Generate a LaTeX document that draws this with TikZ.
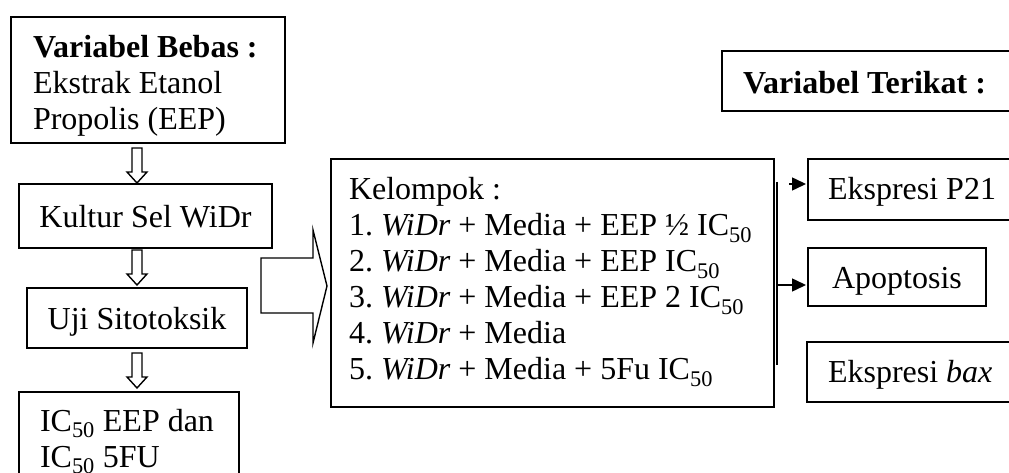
\documentclass[tikz,border=0pt]{standalone}
\usepackage{fontspec}
\setmainfont{Liberation Serif}
\usetikzlibrary{arrows.meta}

\tikzset{
  box/.style={draw, line width=2pt, rectangle, inner sep=0pt, outer sep=0pt,
    anchor=north west, font=\fontsize{32}{36}\selectfont\frenchspacing},
  onebox/.style={box, text height=22pt, text depth=0pt},
  leftbox/.style={box, align=flush left},
  hollow/.style={draw, line width=1.4pt, line join=miter},
  thinarrow/.style={line width=1.5pt, -{Triangle[length=14pt,width=13pt]}, shorten >=2pt},
}

\begin{document}
\begin{tikzpicture}[x=1pt,y=-1pt]
    \useasboundingbox (0,0) rectangle (1009,473);
    % left column
    \node[leftbox, text width=230pt, inner xsep=22pt, text height=41pt, text depth=85pt] (bebas) at (11,17)
      {\textbf{Variabel Bebas :}\\Ekstrak Etanol\\Propolis (EEP)};
    \node[onebox, minimum width=253pt, minimum height=64pt] (kultur) at (19,184) {Kultur Sel WiDr};
    \node[onebox, minimum width=220pt, minimum height=60pt] (uji) at (27,288) {Uji Sitotoksik};
    \node[leftbox, text width=178pt, inner xsep=21pt, text height=39pt, text depth=69pt] (ic) at (19,392)
      {IC\textsubscript{50} EEP dan\\IC\textsubscript{50} 5FU};
    % hollow arrows between the steps
    \foreach \y in {148,250,353}
      \draw[hollow, shift={(0,\y)}] (132,0) -- (142,0) -- (142,24) -- (147,24) -- (137,35)
        -- (127,24) -- (132,24) -- cycle;
    % groups
    \draw[hollow] (261,258) -- (313,258) -- (313,230) -- (327,286) -- (313,343) -- (313,313)
      -- (261,313) -- cycle;
    \node[leftbox, text width=407pt, inner xsep=18pt, text height=41pt, text depth=207pt] (kelompok) at (331,159)
      {Kelompok :\\
       1. \textit{WiDr} + Media + EEP ½ IC\textsubscript{50}\\
       2. \textit{WiDr} + Media + EEP IC\textsubscript{50}\\
       3. \textit{WiDr} + Media + EEP 2 IC\textsubscript{50}\\
       4. \textit{WiDr} + Media\\
       5. \textit{WiDr} + Media + 5Fu IC\textsubscript{50}};
    % right column
    \node[leftbox, text width=270pt, inner xsep=21pt, text height=43pt, text depth=17pt] (terikat) at (722,51)
      {\textbf{Variabel Terikat :}};
    \node[leftbox, text width=220pt, inner xsep=20pt, text height=41pt, text depth=20pt] (p21) at (808,159)
      {Ekspresi P21};
    \node[onebox, minimum width=178pt, minimum height=58pt] (apop) at (808,248) {Apoptosis};
    \node[leftbox, text width=220pt, inner xsep=21pt, text height=40pt, text depth=20pt] (bax) at (807,342)
      {Ekspresi \textit{bax}};
    \coordinate (bustop) at (777,182);
    \coordinate (busbot) at (777,365);
    \draw[line width=1.5pt] (bustop) -- (busbot);
    \coordinate (j1) at (789,184);
    \coordinate (j2) at (777,285);
    \draw[thinarrow] (j1) -- (j1 -| p21.west);
    \draw[thinarrow] (j2) -- (j2 -| apop.west);
\end{tikzpicture}
\end{document}
